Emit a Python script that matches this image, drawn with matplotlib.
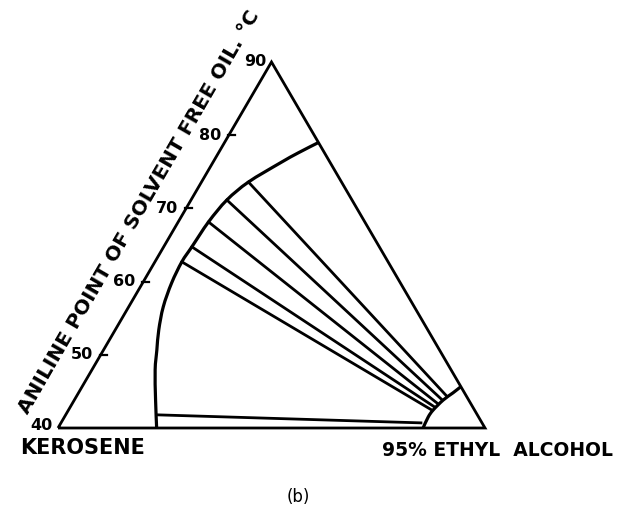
import matplotlib
matplotlib.use("Agg")
import matplotlib.pyplot as plt
from matplotlib.path import Path
from matplotlib.patches import PathPatch
import numpy as np

# ---- data (ternary compositions, % alcohol and % high-aniline oil) ----
binodal_alcohol = [23.1, 19.0, 14.8, 12.5, 10.2, 8.1, 6.8, 6.3, 6.6, 7.1, 8.4, 11.0, 15.8, 18.7, 22.0]
binodal_oil = [0.0, 7.7, 15.9, 21.3, 26.8, 33.1, 39.6, 45.4, 49.5, 56.3, 62.3, 67.2, 72.4, 75.2, 78.0]

alcohol_branch_alcohol = [85.5, 85.2, 85.4, 86.4, 87.7, 88.7]
alcohol_branch_oil = [0.0, 3.0, 4.9, 7.65, 9.6, 11.3]

tie_left_alcohol = [21.3, 6.3, 6.6, 7.1, 8.4, 11.0]
tie_left_oil = [3.6, 45.4, 49.5, 56.3, 62.3, 67.2]
tie_right_alcohol = [84.3, 85.1, 85.4, 85.7, 86.1, 86.7]
tie_right_oil = [1.4, 4.9, 5.7, 6.6, 7.7, 8.7]

aniline_ticks = [40, 50, 60, 70, 80, 90]


def to_xy(alcohol, oil):
    a = np.asarray(alcohol, dtype=float) / 100.0
    t = np.asarray(oil, dtype=float) / 100.0
    return a + t / 2.0, t


def smooth_path(xs, ys):
    """Cubic Bezier path through the given points (Catmull-Rom tangents)."""
    p = np.column_stack([xs, ys])
    n = len(p)
    verts = [p[0]]
    codes = [Path.MOVETO]
    for i in range(n - 1):
        p0 = p[i - 1] if i > 0 else p[i]
        p1 = p[i]
        p2 = p[i + 1]
        p3 = p[i + 2] if i + 2 < n else p[i + 1]
        c1 = p1 + (p2 - p0) / 6.0
        c2 = p2 - (p3 - p1) / 6.0
        verts += [c1, c2, p2]
        codes += [Path.CURVE4] * 3
    return Path(verts, codes)


fig = plt.figure(figsize=(6.26, 5.11), dpi=100)
ax = fig.add_axes([0, 0, 1, 1])
W, H = 427.0, 366.0
ax.set_xlim(-58 / W, 568 / W)
ax.set_ylim(-83 / H, 428 / H)
ax.axis("off")

lw_tri = 2.0
lw_cur = 2.3

# triangle
tx, ty = to_xy([0, 100, 0, 0], [0, 0, 100, 0])
ax.plot(tx, ty, color="black", lw=lw_tri, solid_joinstyle="miter", solid_capstyle="butt")

# binodal curves
bx, by = to_xy(binodal_alcohol, binodal_oil)
ax.add_patch(PathPatch(smooth_path(bx, by), facecolor="none", edgecolor="black",
                       lw=lw_cur, capstyle="butt"))
rx, ry = to_xy(alcohol_branch_alcohol, alcohol_branch_oil)
ax.add_patch(PathPatch(smooth_path(rx, ry), facecolor="none", edgecolor="black",
                       lw=lw_cur, capstyle="butt"))

# tie lines
for la, lo, ra, ro in zip(tie_left_alcohol, tie_left_oil, tie_right_alcohol, tie_right_oil):
    xs, ys = to_xy([la, ra], [lo, ro])
    ax.plot(xs, ys, color="black", lw=lw_tri)

# left-edge ticks and labels
label_font = dict(family="DejaVu Sans", fontweight="bold", color="black")
for v in aniline_ticks:
    frac = (v - 40) / 50.0
    ex, ey = to_xy(0, frac * 100)
    ex = float(ex); ey = float(ey)
    if 40 < v < 90:
        ax.plot([ex - 1 / W, ex + 6 / W], [ey, ey], color="black", lw=1.6)
    dx = 5 / W if v in (40, 90) else 8 / W
    ax.text(ex - dx, ey + (3 / H if v == 40 else 0), str(v), ha="right", va="center",
            fontsize=11.5, **label_font)

# axis title along left edge
ang = np.degrees(np.arctan2(H, 212.0))
ax.text((139 - 58) / W, (428 - 212) / H, "ANILINE POINT OF SOLVENT FREE OIL. °C",
        rotation=ang, rotation_mode="anchor", ha="center", va="center",
        fontsize=14.5, **label_font)

ax.text((20 - 58) / W, (428 - 448) / H, "KEROSENE", ha="left", va="center",
        fontsize=15, **label_font)
ax.text((382 - 58) / W, (428 - 450) / H, "95% ETHYL  ALCOHOL", ha="left", va="center",
        fontsize=13.5, **label_font)
ax.text((298 - 58) / W, (428 - 497) / H, "(b)", ha="center", va="center",
        fontsize=12, family="DejaVu Sans", color="black")

fig.savefig("out.png", dpi=100)
